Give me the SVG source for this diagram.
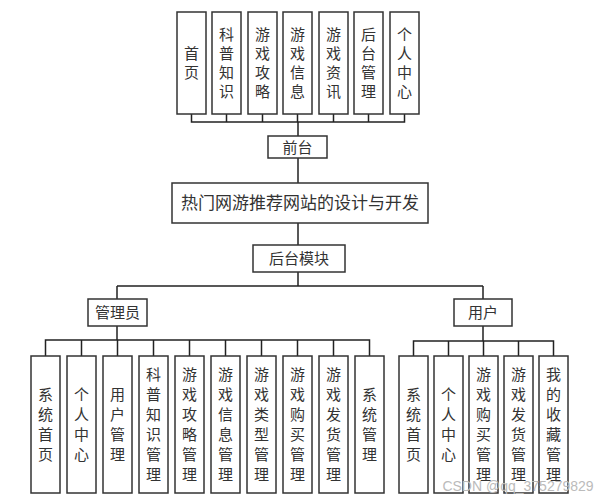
<svg xmlns="http://www.w3.org/2000/svg" width="605" height="500" viewBox="0 0 605 500">
<style>
rect{fill:#fff;stroke:#333;stroke-width:1.5}
text{font-family:"Noto Sans CJK SC",sans-serif;font-size:15px;fill:#333;text-anchor:middle}
#connectors path{fill:none;stroke:#222;stroke-width:1.5}
</style>
<rect x="0" y="0" width="605" height="500" style="stroke:none"/>
<g id="connectors">
<path d="M191.5 114V122H404.5V114M226.5 114V122M262.5 114V122M297.5 114V122M333.5 114V122M368.5 114V122M298 122V136M298 158V183M298 223V245M298 272V286M117 286H483M117 286V299M483 286V299"/>
<path d="M117 326V340M45.5 356V340H369.5V356M81.5 340V356M117.5 340V356M153.5 340V356M189.5 340V356M225.5 340V356M261.5 340V356M297.5 340V356M333.5 340V356"/>
<path d="M483 326V341M413.5 356V341H553.5V356M448.5 341V356M483.5 341V356M518.5 341V356"/>
</g>
<g id="top-nodes">
<g id="t1"><rect x="177" y="12" width="29" height="102"/><text x="191.5" y="59">首</text><text x="191.5" y="78">页</text></g>
<g id="t2"><rect x="212" y="12" width="29" height="102"/><text x="226.5" y="40">科</text><text x="226.5" y="59">普</text><text x="226.5" y="78">知</text><text x="226.5" y="97">识</text></g>
<g id="t3"><rect x="248" y="12" width="29" height="102"/><text x="262.5" y="40">游</text><text x="262.5" y="59">戏</text><text x="262.5" y="78">攻</text><text x="262.5" y="97">略</text></g>
<g id="t4"><rect x="283" y="12" width="29" height="102"/><text x="297.5" y="40">游</text><text x="297.5" y="59">戏</text><text x="297.5" y="78">信</text><text x="297.5" y="97">息</text></g>
<g id="t5"><rect x="319" y="12" width="29" height="102"/><text x="333.5" y="40">游</text><text x="333.5" y="59">戏</text><text x="333.5" y="78">资</text><text x="333.5" y="97">讯</text></g>
<g id="t6"><rect x="354" y="12" width="29" height="102"/><text x="368.5" y="40">后</text><text x="368.5" y="59">台</text><text x="368.5" y="78">管</text><text x="368.5" y="97">理</text></g>
<g id="t7"><rect x="390" y="12" width="29" height="102"/><text x="404.5" y="40">个</text><text x="404.5" y="59">人</text><text x="404.5" y="78">中</text><text x="404.5" y="97">心</text></g>
</g>
<g id="qiantai"><rect x="268" y="136" width="59" height="22"/><text x="297.5" y="153">前台</text></g>
<g id="title"><rect x="172" y="183" width="256" height="40"/><text x="300" y="209" style="font-size:17px">热门网游推荐网站的设计与开发</text></g>
<g id="houtai"><rect x="253" y="245" width="92" height="27"/><text x="299" y="264">后台模块</text></g>
<g id="admin"><rect x="88" y="299" width="59" height="27"/><text x="117.5" y="318">管理员</text></g>
<g id="user"><rect x="454" y="299" width="58" height="27"/><text x="483" y="318">用户</text></g>
<g id="admin-children">
<g id="a1"><rect x="31" y="356" width="29" height="137"/><text x="45.5" y="400">系</text><text x="45.5" y="420">统</text><text x="45.5" y="440">首</text><text x="45.5" y="460">页</text></g>
<g id="a2"><rect x="67" y="356" width="29" height="137"/><text x="81.5" y="400">个</text><text x="81.5" y="420">人</text><text x="81.5" y="440">中</text><text x="81.5" y="460">心</text></g>
<g id="a3"><rect x="103" y="356" width="29" height="137"/><text x="117.5" y="400">用</text><text x="117.5" y="420">户</text><text x="117.5" y="440">管</text><text x="117.5" y="460">理</text></g>
<g id="a4"><rect x="139" y="356" width="29" height="137"/><text x="153.5" y="380">科</text><text x="153.5" y="400">普</text><text x="153.5" y="420">知</text><text x="153.5" y="440">识</text><text x="153.5" y="460">管</text><text x="153.5" y="480">理</text></g>
<g id="a5"><rect x="175" y="356" width="29" height="137"/><text x="189.5" y="380">游</text><text x="189.5" y="400">戏</text><text x="189.5" y="420">攻</text><text x="189.5" y="440">略</text><text x="189.5" y="460">管</text><text x="189.5" y="480">理</text></g>
<g id="a6"><rect x="211" y="356" width="29" height="137"/><text x="225.5" y="380">游</text><text x="225.5" y="400">戏</text><text x="225.5" y="420">信</text><text x="225.5" y="440">息</text><text x="225.5" y="460">管</text><text x="225.5" y="480">理</text></g>
<g id="a7"><rect x="247" y="356" width="29" height="137"/><text x="261.5" y="380">游</text><text x="261.5" y="400">戏</text><text x="261.5" y="420">类</text><text x="261.5" y="440">型</text><text x="261.5" y="460">管</text><text x="261.5" y="480">理</text></g>
<g id="a8"><rect x="283" y="356" width="29" height="137"/><text x="297.5" y="380">游</text><text x="297.5" y="400">戏</text><text x="297.5" y="420">购</text><text x="297.5" y="440">买</text><text x="297.5" y="460">管</text><text x="297.5" y="480">理</text></g>
<g id="a9"><rect x="319" y="356" width="29" height="137"/><text x="333.5" y="380">游</text><text x="333.5" y="400">戏</text><text x="333.5" y="420">发</text><text x="333.5" y="440">货</text><text x="333.5" y="460">管</text><text x="333.5" y="480">理</text></g>
<g id="a10"><rect x="355" y="356" width="29" height="137"/><text x="369.5" y="400">系</text><text x="369.5" y="420">统</text><text x="369.5" y="440">管</text><text x="369.5" y="460">理</text></g>
</g>
<g id="user-children">
<g id="u1"><rect x="399" y="356" width="29" height="137"/><text x="413.5" y="400">系</text><text x="413.5" y="420">统</text><text x="413.5" y="440">首</text><text x="413.5" y="460">页</text></g>
<g id="u2"><rect x="434" y="356" width="29" height="137"/><text x="448.5" y="400">个</text><text x="448.5" y="420">人</text><text x="448.5" y="440">中</text><text x="448.5" y="460">心</text></g>
<g id="u3"><rect x="469" y="356" width="29" height="137"/><text x="483.5" y="380">游</text><text x="483.5" y="400">戏</text><text x="483.5" y="420">购</text><text x="483.5" y="440">买</text><text x="483.5" y="460">管</text><text x="483.5" y="480">理</text></g>
<g id="u4"><rect x="504" y="356" width="29" height="137"/><text x="518.5" y="380">游</text><text x="518.5" y="400">戏</text><text x="518.5" y="420">发</text><text x="518.5" y="440">货</text><text x="518.5" y="460">管</text><text x="518.5" y="480">理</text></g>
<g id="u5"><rect x="539" y="356" width="29" height="137"/><text x="553.5" y="380">我</text><text x="553.5" y="400">的</text><text x="553.5" y="420">收</text><text x="553.5" y="440">藏</text><text x="553.5" y="460">管</text><text x="553.5" y="480">理</text></g>
</g>
<text x="518" y="491" style="font-family:'Liberation Sans',sans-serif;font-size:14px;fill:#bbb">CSDN @qq_375279829</text>
</svg>
